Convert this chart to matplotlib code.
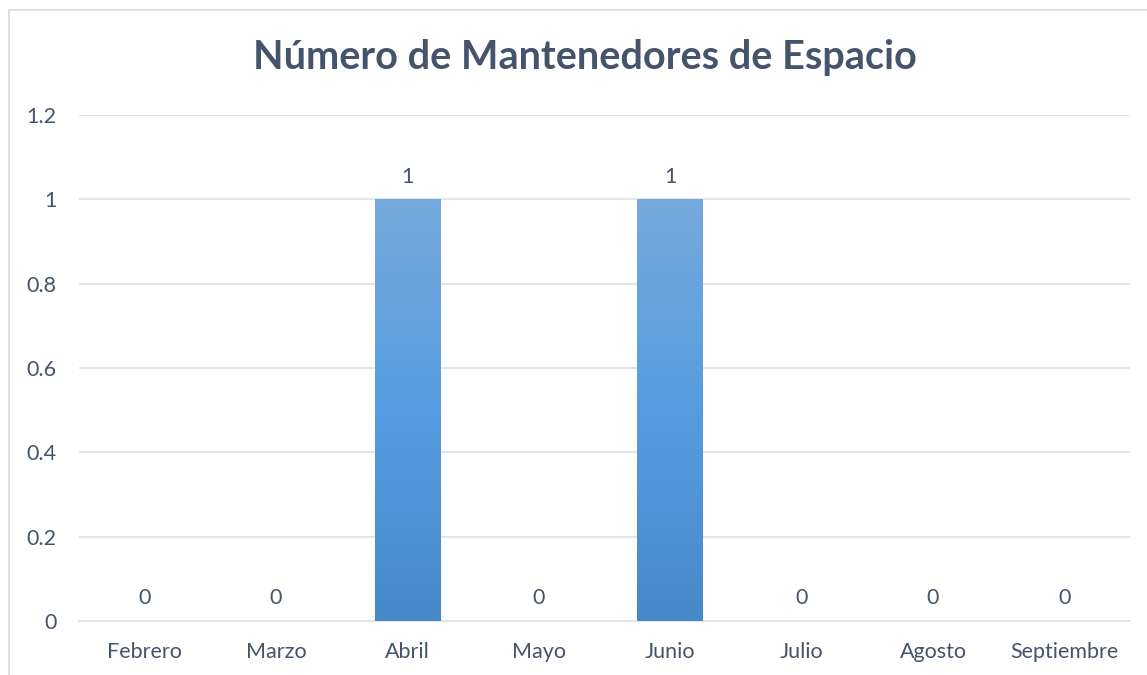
import matplotlib
matplotlib.use("Agg")
import matplotlib.pyplot as plt
import numpy as np
from matplotlib.patches import Rectangle
from matplotlib.colors import LinearSegmentedColormap

months = ["Febrero", "Marzo", "Abril", "Mayo", "Junio", "Julio", "Agosto", "Septiembre"]
values = [0, 0, 1, 0, 1, 0, 0, 0]
yticks = [0, 0.2, 0.4, 0.6, 0.8, 1, 1.2]
ytick_labels = ["0", "0.2", "0.4", "0.6", "0.8", "1", "1.2"]
title = "Número de Mantenedores de Espacio"

plt.rcParams['font.family'] = ['Lato', 'DejaVu Sans']
txt = "#44546a"

fig = plt.figure(figsize=(11.47, 6.75), dpi=100)
fig.patches.append(Rectangle((9/1147, -0.1), 1.2, (675-10)/675 + 0.1, transform=fig.transFigure,
                             fill=False, edgecolor="#d9d9d9", lw=1.2))
ax = fig.add_axes([79/1147, (675-621)/675, (1130-79)/1147, (621-115)/675])

x = np.arange(len(months))
bars = ax.bar(x, values, width=0.5, color="none", zorder=3)
cmap = LinearSegmentedColormap.from_list("g", ["#4689c9", "#559de0", "#76a9dc"])
grad = np.linspace(0, 1, 256).reshape(-1, 1)
for b in bars:
    h = b.get_height()
    if h > 0:
        x0 = b.get_x()
        ax.imshow(grad, extent=(x0, x0 + b.get_width(), 0, h), origin="lower",
                  cmap=cmap, aspect="auto", zorder=3)

for xi, v in zip(x, values):
    ax.text(xi, v + 0.03, f"{v}", ha="center", va="bottom", fontsize=15.5, color=txt)

ax.set_xlim(-0.5, len(months) - 0.5)
ax.set_ylim(0, 1.2)
ax.set_yticks(yticks)
ax.set_yticklabels(ytick_labels)
ax.set_xticks(x)
ax.set_xticklabels(months)
ax.tick_params(axis="both", length=0, labelsize=15.5, labelcolor=txt)
ax.tick_params(axis="x", pad=15)
ax.tick_params(axis="y", pad=16)
ax.grid(axis="y", color="#dfe3ea", lw=1.3, zorder=0)
ax.set_axisbelow(True)
for s in ["top", "right", "left"]:
    ax.spines[s].set_visible(False)
ax.spines["bottom"].set_color("#dfe3ea")
ax.spines["bottom"].set_linewidth(1.3)

fig.text(585/1147, (675-58)/675, title, ha="center", va="center", fontsize=28.5,
         fontweight="bold", color=txt)

fig.savefig("out.png", dpi=100)
